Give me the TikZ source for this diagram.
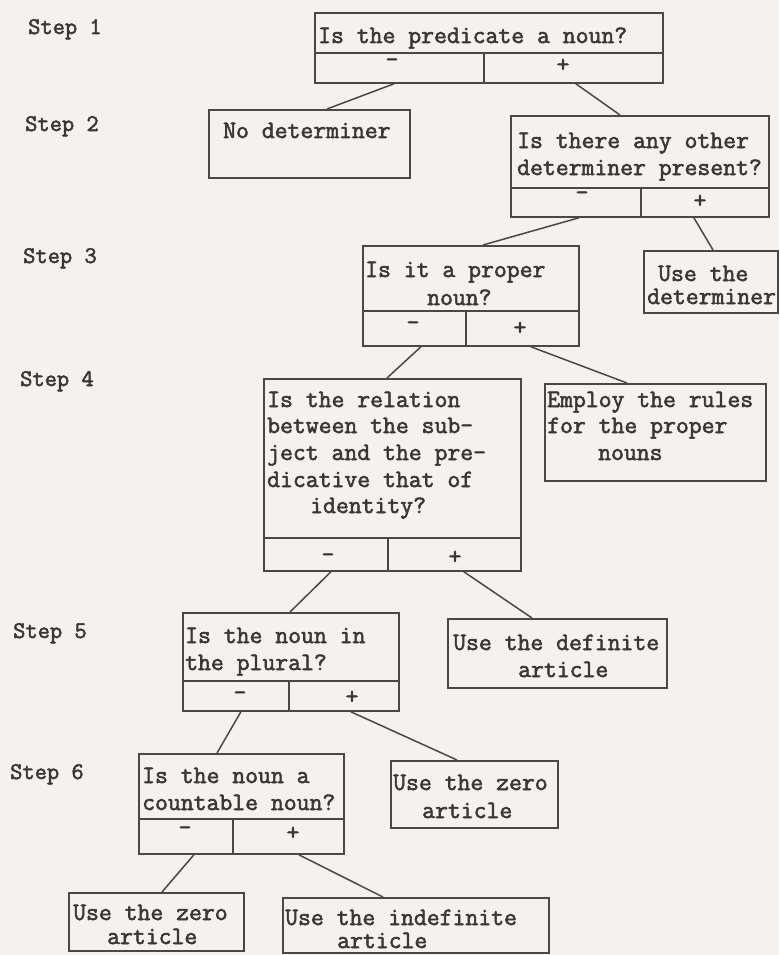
\documentclass[tikz,border=0pt]{standalone}
\usepackage{fontspec}
\newfontfamily\typew{Latin Modern Mono}[FakeBold=2.2]
\usetikzlibrary{calc}
\definecolor{paper}{HTML}{F3F2EE}
\definecolor{ink}{HTML}{3A3836}
\definecolor{rulec}{HTML}{4A4846}
\tikzset{
  box/.style={draw=rulec, line width=1.8pt, rectangle, anchor=north west, inner sep=0pt},
  txt/.style={anchor=base west, inner sep=0pt, text=ink, font=\typew\fontsize{25}{27}\selectfont},
  sign/.style={anchor=base, inner sep=0pt, text=ink, font=\typew\fontsize{25}{27}\selectfont},
  steplbl/.style={anchor=base west, inner sep=0pt, text=ink, font=\typew\fontsize{23.8}{25}\selectfont},
  link/.style={draw=rulec, line width=1.5pt},
}
\begin{document}
\begin{tikzpicture}[x=1pt,y=-1pt]
\fill[paper] (0,0) rectangle (779,955);
\useasboundingbox (0,0) rectangle (779,955);

% step labels
\node[steplbl] (s1) at (28,34) {Step 1};
\node[steplbl] (s2) at (25,131) {Step 2};
\node[steplbl] (s3) at (23,263) {Step 3};
\node[steplbl] (s4) at (20,386) {Step 4};
\node[steplbl] (s5) at (13,638) {Step 5};
\node[steplbl] (s6) at (10,779) {Step 6};

% Q1
\node[box, minimum width=348pt, minimum height=40pt] (q1) at (314,12) {};
\node[box, minimum width=169pt, minimum height=30pt] (q1m) at (314,52) {};
\node[box, minimum width=179pt, minimum height=30pt] (q1p) at (483,52) {};
\node[txt] (q1t) at (318,43) {Is the predicate a noun?};
\node[sign] (q1ms) at (392,67) {-};
\node[sign] (q1ps) at (563,72) {+};

% No determiner
\node[box, minimum width=201pt, minimum height=68pt] (nodet) at (208,109) {};
\node[txt] (nodett) at (223,138) {No determiner};

% Q2
\node[box, minimum width=258pt, minimum height=72pt] (q2) at (510,115) {};
\node[box, minimum width=130pt, minimum height=29pt] (q2m) at (510,187) {};
\node[box, minimum width=128pt, minimum height=29pt] (q2p) at (640,187) {};
\node[txt] (q2a) at (517,148) {Is there any other};
\node[txt] (q2b) at (517,175) {determiner present?};
\node[sign] (q2ms) at (582,200) {-};
\node[sign] (q2ps) at (700,208) {+};

% Use the determiner
\node[box, minimum width=134pt, minimum height=62pt] (usedet) at (643,250) {};
\node[txt] (usedeta) at (658,281) {Use the};
\node[txt] (usedetb) at (647,304) {determiner};

% Q3
\node[box, minimum width=216pt, minimum height=65pt] (q3) at (362,245) {};
\node[box, minimum width=103pt, minimum height=35pt] (q3m) at (362,310) {};
\node[box, minimum width=113pt, minimum height=35pt] (q3p) at (465,310) {};
\node[txt] (q3a) at (365,277) {Is it a proper};
\node[txt] (q3b) at (427,305) {noun?};
\node[sign] (q3ms) at (413,330) {-};
\node[sign] (q3ps) at (520,335) {+};

% Q4
\node[box, minimum width=257pt, minimum height=159pt] (q4) at (263,378) {};
\node[box, minimum width=124pt, minimum height=33pt] (q4m) at (263,537) {};
\node[box, minimum width=133pt, minimum height=33pt] (q4p) at (387,537) {};
\node[txt] (q4a) at (267,407) {Is the relation};
\node[txt] (q4b) at (267,433) {between the sub-};
\node[txt] (q4c) at (267,460) {ject and the pre-};
\node[txt] (q4d) at (267,487) {dicative that of};
\node[txt] (q4e) at (310,513) {identity?};
\node[sign] (q4ms) at (328,562) {-};
\node[sign] (q4ps) at (455,564) {+};

% Employ
\node[box, minimum width=221pt, minimum height=97pt] (employ) at (544,383) {};
\node[txt] (employa) at (547,407) {Employ the rules};
\node[txt] (employb) at (547,433) {for the proper};
\node[txt] (employc) at (598,460) {nouns};

% Q5
\node[box, minimum width=216pt, minimum height=68pt] (q5) at (182,612) {};
\node[box, minimum width=106pt, minimum height=30pt] (q5m) at (182,680) {};
\node[box, minimum width=110pt, minimum height=30pt] (q5p) at (288,680) {};
\node[txt] (q5a) at (185,643) {Is the noun in};
\node[txt] (q5b) at (185,670) {the plural?};
\node[sign] (q5ms) at (240,700) {-};
\node[sign] (q5ps) at (352,704) {+};

% Use the definite article
\node[box, minimum width=219pt, minimum height=69pt] (defart) at (447,618) {};
\node[txt] (defarta) at (453,650) {Use the definite};
\node[txt] (defartb) at (518,677) {article};

% Q6
\node[box, minimum width=205pt, minimum height=65pt] (q6) at (138,753) {};
\node[box, minimum width=94pt, minimum height=35pt] (q6m) at (138,818) {};
\node[box, minimum width=111pt, minimum height=35pt] (q6p) at (232,818) {};
\node[txt] (q6a) at (142,783) {Is the noun a};
\node[txt] (q6b) at (142,810) {countable noun?};
\node[sign] (q6ms) at (185,835) {-};
\node[sign] (q6ps) at (293,840) {+};

% Use the zero article (step 6 right)
\node[box, minimum width=167pt, minimum height=67pt] (zero1) at (390,760) {};
\node[txt] (zero1a) at (393,790) {Use the zero};
\node[txt] (zero1b) at (422,818) {article};

% bottom boxes
\node[box, minimum width=175pt, minimum height=58pt] (zero2) at (68,892) {};
\node[txt] (zero2a) at (73,920) {Use the zero};
\node[txt] (zero2b) at (107,944) {article};

\node[box, minimum width=266pt, minimum height=55pt] (indef) at (282,897) {};
\node[txt] (indefa) at (285,925) {Use the indefinite};
\node[txt] (indefb) at (337,948) {article};

% connectors
\draw[link] ($(q1m.south)+(-5.5,0)$) -- ($(nodet.north west)+(119,0)$);
\draw[link] ($(q1p.south)+(2.5,0)$) -- ($(q2.north west)+(110,0)$);
\draw[link] ($(q2m.south)+(3,0)$) -- ($(q3.north west)+(121,0)$);
\draw[link] ($(q2p.south)+(-11,0)$) -- ($(usedet.north west)+(70,0)$);
\draw[link] ($(q3m.south)+(6.5,0)$) -- ($(q4.north west)+(124,0)$);
\draw[link] ($(q3p.south)+(8.5,0)$) -- ($(employ.north west)+(83,0)$);
\draw[link] ($(q4m.south)+(5,0)$) -- ($(q5.north west)+(108,0)$);
\draw[link] ($(q4p.south)+(9.5,0)$) -- ($(defart.north west)+(85,0)$);
\draw[link] ($(q5m.south)+(5,0)$) -- ($(q6.north west)+(79,0)$);
\draw[link] ($(q5p.south)+(7,0)$) -- ($(zero1.north west)+(67,0)$);
\draw[link] ($(q6m.south)+(8,0)$) -- ($(zero2.north west)+(94,0)$);
\draw[link] ($(q6p.south)+(10.5,0)$) -- ($(indef.north west)+(101,0)$);
\end{tikzpicture}
\end{document}
